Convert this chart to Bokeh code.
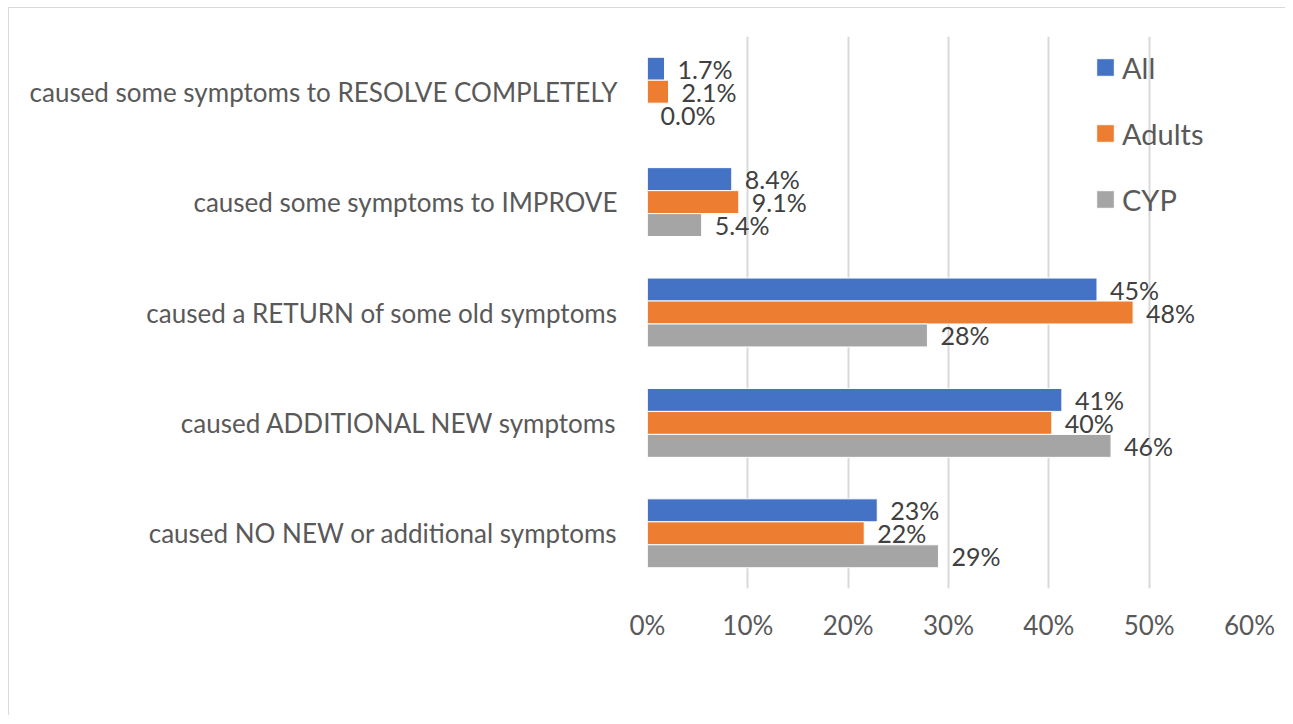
from bokeh.plotting import figure
from bokeh.models import FactorRange, FixedTicker, ColumnDataSource, Legend, LegendItem
from bokeh.transform import dodge
from bokeh.core.properties import value
from bokeh.embed import file_html
from bokeh.resources import INLINE

# ---- data ----
categories = [
    "caused some symptoms to RESOLVE COMPLETELY",
    "caused some symptoms to IMPROVE",
    "caused a RETURN of some old symptoms",
    "caused ADDITIONAL NEW symptoms",
    "caused NO NEW or additional symptoms",
]
series_names = ["All", "Adults", "CYP"]
all_values = [1.7, 8.4, 44.8, 41.3, 22.9]
adults_values = [2.1, 9.1, 48.4, 40.3, 21.6]
cyp_values = [0.0, 5.4, 27.9, 46.2, 29.0]
all_labels = ["1.7%", "8.4%", "45%", "41%", "23%"]
adults_labels = ["2.1%", "9.1%", "48%", "40%", "22%"]
cyp_labels = ["0.0%", "5.4%", "28%", "46%", "29%"]
tick_values = [0, 10, 20, 30, 40, 50, 60]
tick_labels = ["0%", "10%", "20%", "30%", "40%", "50%", "60%"]

colors = ["#4472C4", "#ED7D31", "#A5A5A5"]
FONT = "Lato"

src = ColumnDataSource(dict(
    cat=categories,
    all=all_values, adults=adults_values, cyp=cyp_values,
    all_l=all_labels, adults_l=adults_labels, cyp_l=cyp_labels,
))

p = figure(
    width=1277, height=708,
    y_range=FactorRange(factors=list(reversed(categories))),
    x_range=(0, 60),
    output_backend="svg", toolbar_location=None,
    min_border_left=638, min_border_right=37, min_border_top=28, min_border_bottom=128,
)
p.outline_line_color = None
p.styles = {
    "margin-left": "8px", "margin-top": "7px",
    "border-left": "1.5px solid #D9D9D9", "border-top": "1.5px solid #D9D9D9",
}

bar_h = 0.208
offsets = [bar_h, 0.0, -bar_h]
fields = ["all", "adults", "cyp"]
renderers = []
for f, off, c in zip(fields, offsets, colors):
    r = p.hbar(y=dodge("cat", off, range=p.y_range), right=f, left=0, height=bar_h,
               source=src, fill_color=c, line_color="white", line_width=1)
    renderers.append(r)
    p.text(x=f, y=dodge("cat", off, range=p.y_range), text=f + "_l", source=src,
           x_offset=13, text_align="left", text_baseline="middle",
           text_font=value(FONT), text_font_size="25px", text_color="#404040")

legend = Legend(items=[LegendItem(label=n, renderers=[r]) for n, r in zip(series_names, renderers)],
                location=(447, 371))
legend.background_fill_alpha = 0
legend.border_line_color = None
legend.padding = 0
legend.margin = 0
legend.glyph_width = 22
legend.glyph_height = 22
legend.label_height = 36
legend.spacing = 30
legend.label_standoff = 6
legend.label_text_font = FONT
legend.label_text_font_size = "29px"
legend.label_text_color = "#595959"
p.add_layout(legend)

# x axis
p.xaxis.ticker = FixedTicker(ticks=tick_values)
p.xaxis.major_label_overrides = {t: l for t, l in zip(tick_values, tick_labels)}
p.xaxis.axis_line_color = None
p.xaxis.major_tick_line_color = None
p.xaxis.minor_tick_line_color = None
p.xaxis.major_label_standoff = 14
p.xaxis.major_label_text_font = FONT
p.xaxis.major_label_text_font_size = "26px"
p.xaxis.major_label_text_color = "#595959"

# y axis
p.yaxis.axis_line_color = None
p.yaxis.major_tick_line_color = None
p.yaxis.major_tick_out = 0
p.yaxis.major_label_standoff = 30
p.yaxis.major_label_text_font = FONT
p.yaxis.major_label_text_font_size = "26px"
p.yaxis.major_label_text_color = "#595959"

p.xgrid.grid_line_color = "#D9D9D9"
p.xgrid.grid_line_width = 2
p.ygrid.grid_line_color = None

open("out.html", "w").write(file_html(p, INLINE))
